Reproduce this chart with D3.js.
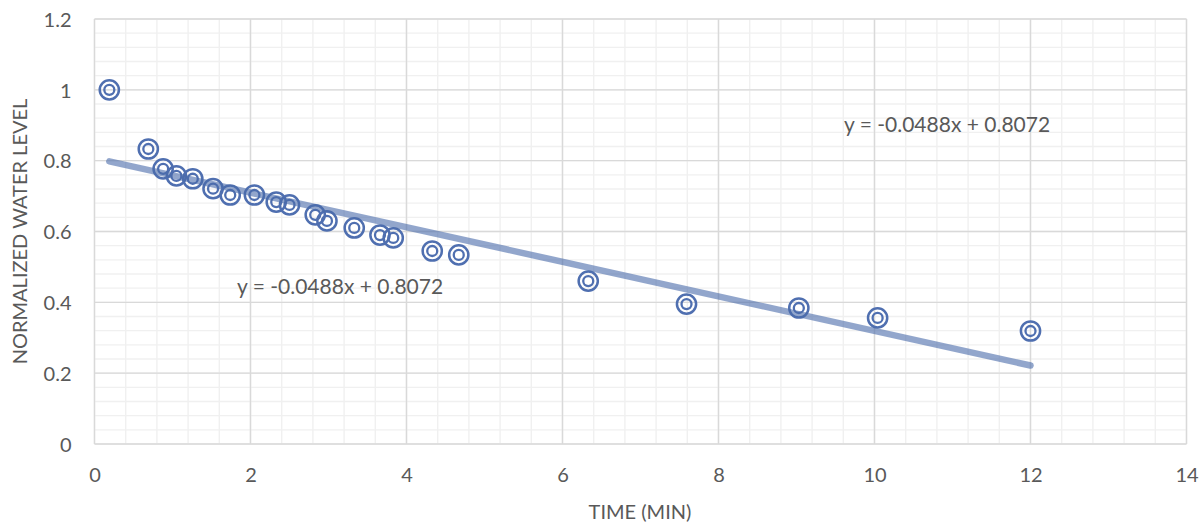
<!DOCTYPE html>
<html><head><meta charset="utf-8">
<script src="https://cdn.jsdelivr.net/npm/d3@7"></script>
<style>body{margin:0;background:#fff}text{font-family:Lato,"Open Sans",sans-serif;fill:#595959}</style>
</head><body><svg id="c" width="1204" height="526"></svg>
<script>
const timeMin = [0.19,0.69,0.88,1.05,1.26,1.52,1.74,2.05,2.33,2.50,2.83,2.98,3.33,3.66,3.83,4.33,4.67,6.33,7.59,9.03,10.04,12.0];
const waterLevel = [1.0,0.833,0.777,0.757,0.749,0.721,0.703,0.703,0.683,0.675,0.647,0.630,0.610,0.590,0.582,0.545,0.534,0.460,0.395,0.384,0.356,0.319];
const slope = -0.0488, intercept = 0.8072;
const xTicks = [0,2,4,6,8,10,12,14];
const yTicks = [0,0.2,0.4,0.6,0.8,1.0,1.2];
const eqLabel = "y = -0.0488x + 0.8072";

const svg = d3.select("#c");
const L=94.5,R=1186.5,T=19,B=444;
const x=d3.scaleLinear().domain([0,14]).range([L,R]);
const y=d3.scaleLinear().domain([0,1.2]).range([B,T]);
const g=svg.append("g");
const xMinor=d3.range(0,14.001,0.4), yMinor=d3.range(0,1.2001,0.04);
g.selectAll(".vm").data(xMinor).join("line").attr("x1",d=>x(d)).attr("x2",d=>x(d)).attr("y1",T).attr("y2",B).attr("stroke","#F0F0F0").attr("stroke-width",1.4);
g.selectAll(".hm").data(yMinor).join("line").attr("y1",d=>y(d)).attr("y2",d=>y(d)).attr("x1",L).attr("x2",R).attr("stroke","#F0F0F0").attr("stroke-width",1.4);
g.selectAll(".vM").data(xTicks).join("line").attr("x1",d=>x(d)).attr("x2",d=>x(d)).attr("y1",T).attr("y2",B).attr("stroke","#D9D9D9").attr("stroke-width",1.4);
g.selectAll(".hM").data(yTicks).join("line").attr("y1",d=>y(d)).attr("y2",d=>y(d)).attr("x1",L).attr("x2",R).attr("stroke","#D9D9D9").attr("stroke-width",1.4);

const xa=svg.append("g").attr("transform",`translate(0,${B})`).call(d3.axisBottom(x).tickValues(xTicks).tickFormat(d3.format("d")).tickSize(0));
const ya=svg.append("g").attr("transform",`translate(${L},0)`).call(d3.axisLeft(y).tickValues(yTicks).tickFormat(d=>d===0?"0":(d===1?"1":d3.format(".1f")(d))).tickSize(0));
[xa,ya].forEach(a=>{a.select(".domain").remove();a.selectAll("text").style("font-family","Lato,'Open Sans',sans-serif").style("font-size","20px").attr("fill","#595959");});
xa.selectAll("text").attr("y",38).attr("dy",0);
ya.selectAll("text").attr("x",-23).attr("dy","0.36em");

const mk=svg.append("g");
const col="#4F6FB0";
mk.selectAll(".o").data(timeMin).join("circle").attr("cx",d=>x(d)).attr("cy",(d,i)=>y(waterLevel[i])).attr("r",9.6).attr("fill","none").attr("stroke",col).attr("stroke-width",2.5);
mk.selectAll(".in").data(timeMin).join("circle").attr("cx",d=>x(d)).attr("cy",(d,i)=>y(waterLevel[i])).attr("r",5).attr("fill","none").attr("stroke",col).attr("stroke-width",2.3);

const tx=[d3.min(timeMin),d3.max(timeMin)];
svg.append("path").attr("d",d3.line().x(d=>x(d)).y(d=>y(slope*d+intercept))(tx)).attr("stroke","#4A6AAA").attr("stroke-opacity",0.6).attr("stroke-width",6.5).attr("stroke-linecap","round").attr("fill","none");

svg.append("text").attr("x",237).attr("y",294).attr("font-size",21).text(eqLabel);
svg.append("text").attr("x",844).attr("y",132).attr("font-size",21).text(eqLabel);

svg.append("text").attr("x",640).attr("y",519).attr("text-anchor","middle").attr("font-size",20).text("TIME (MIN)");
svg.append("text").attr("transform",`translate(27,${(T+B)/2}) rotate(-90)`).attr("text-anchor","middle").attr("font-size",20).text("NORMALIZED WATER LEVEL");
</script></body></html>
